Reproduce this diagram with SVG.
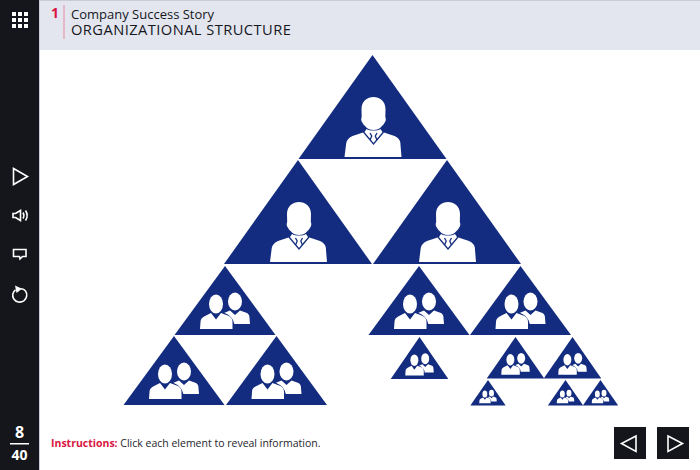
<svg xmlns="http://www.w3.org/2000/svg" xmlns:xlink="http://www.w3.org/1999/xlink" width="700" height="470" viewBox="0 0 700 470">
<style>
.t{font-family:"Open Sans","Noto Sans","Liberation Sans",sans-serif}
.tri{fill:#132c7f}
.w{fill:#fff}
.ic{fill:none;stroke:#fff;stroke-width:1.6;stroke-linejoin:miter}
.ln{fill:none;stroke:#132c7f;stroke-width:1.3}
</style>
<defs>
<g id="solo">
<polygon class="tri" points="0,0 74,104 -74,104"/>
<path class="w" d="M-11,54C-11,46 -5,42 1,42C7,42 13,46 13,54L12.800,62C13.500,63 13.500,66 12.500,67C11.500,69 10.500,70 9.500,71C7,74 4,75 1,75C-2,75 -5,74 -7.500,71C-8.500,70 -9.500,69 -10.500,67C-11.500,66 -11.500,63 -10.800,62Z"/>
<path class="w" d="M-6,74C-3,76 5,76 8,74L10,77L22,81C26,83 28,85 28,90L29,102L-28,102L-26.500,90C-26,85 -24,83 -20,81L-8,77Z"/>
<path class="ln" d="M-9,77L1,89L11,77"/>
<path class="ln" d="M-2.500,78L-0.800,81L-2.500,85M4.500,78L2.800,81L4.500,85"/>
</g>
<g id="pair">
<polygon class="tri" points="0,0 50.500,69 -50.500,69"/>
<ellipse class="w" cx="10" cy="35.500" rx="7" ry="9"/>
<path class="w" d="M5,44.500L10,49L15,44.500L22,47C24,48 24.500,50 24.500,52L25,58H8.500C8,53 5,50 -1,47Z"/>
<path class="ln" stroke-width="1" d="M-1.500,47C4.500,49.500 8,53 8.700,58"/>
<ellipse class="w" cx="-9" cy="38" rx="7" ry="9.500"/>
<path class="w" d="M-14,47L-9,53.500L-4,47L4,50C6.500,51.500 7.500,53 7.500,56L7.500,63L-25,63L-24.500,56C-24.500,53 -23,51.500 -20,50Z"/>
</g>
</defs>
<rect width="700" height="470" fill="#fff"/>
<g id="header">
<rect x="39" y="0" width="661" height="50" fill="#e3e6ef"/>
<rect x="39" y="0" width="661" height="1" fill="#c9ccd6"/>
<rect x="63.500" y="5" width="1" height="34" fill="#e88a9f"/>
<text class="t" x="51" y="18" font-size="14" font-weight="700" fill="#d8143f">1</text>
<text class="t" x="71" y="18.500" font-size="13" fill="#16171c">Company Success Story</text>
<text class="t" x="71" y="34.500" font-size="14.700" letter-spacing=".43" fill="#16171c">ORGANIZATIONAL STRUCTURE</text>
</g>
<g id="sidebar">
<rect x="0" y="0" width="39" height="470" fill="#15161b"/>
<rect x="39" y="0" width="1" height="470" fill="#c9ccd6"/>
<g id="menu-icon" fill="#fff">
<rect x="12" y="12" width="4" height="4"/><rect x="18" y="12" width="4" height="4"/><rect x="24" y="12" width="4" height="4"/>
<rect x="12" y="18" width="4" height="4"/><rect x="18" y="18" width="4" height="4"/><rect x="24" y="18" width="4" height="4"/>
<rect x="12" y="24" width="4" height="4"/><rect x="18" y="24" width="4" height="4"/><rect x="24" y="24" width="4" height="4"/>
</g>
<path id="play-icon" class="ic" d="M13.500,168.500L27.500,176.500L13.500,184.500Z"/>
<g id="sound-icon">
<path class="ic" stroke-width="1.800" d="M13,213.500H15.500L20.500,210.500V220.500L15.500,217.500H13Z"/>
<path class="ic" d="M23,212.500C24.200,214.500 24.200,216.500 23,218.500M25.500,210.500C27.500,213.500 27.500,217.500 25.500,220.500"/>
</g>
<path id="caption-icon" class="ic" stroke-width="2" stroke-linejoin="round" d="M13.500,249.500H26V256.500H22.500L20,259L19.500,256.500H13.500Z"/>
<g id="replay-icon">
<path class="ic" stroke-width="2.400" d="M15.500,289.800C12.500,292 11.800,296 13.800,299C16,302.300 20.500,303 23.800,300.800C27,298.500 27.700,294 25.500,291C24.500,289.700 23,288.900 21,288.800"/>
<polygon class="w" points="15,285.500 22,288.800 16.500,293"/>
</g>
<text class="t" x="19.500" y="438" font-size="16" font-weight="700" fill="#fff" text-anchor="middle">8</text>
<rect x="10" y="443" width="19" height="1.500" fill="#fff"/>
<text class="t" x="19.500" y="460" font-size="14" font-weight="700" fill="#fff" text-anchor="middle">40</text>
</g>
<g id="connectors"></g>
<use id="n1" xlink:href="#solo" href="#solo" x="372.500" y="55"/>
<use id="n2" xlink:href="#solo" href="#solo" x="298" y="160"/>
<use id="n3" xlink:href="#solo" href="#solo" x="447" y="160"/>
<use id="n4" xlink:href="#pair" href="#pair" transform="translate(225,266)"/>
<use id="n5" xlink:href="#pair" href="#pair" transform="translate(419,266)"/>
<use id="n6" xlink:href="#pair" href="#pair" transform="translate(520.500,266)"/>
<use id="n7" xlink:href="#pair" href="#pair" transform="translate(174,336)"/>
<use id="n8" xlink:href="#pair" href="#pair" transform="translate(276.500,336)"/>
<use id="n9" xlink:href="#pair" href="#pair" transform="translate(419.500,337) scale(.57,.61)"/>
<use id="n10" xlink:href="#pair" href="#pair" transform="translate(515.500,337) scale(.57,.6)"/>
<use id="n11" xlink:href="#pair" href="#pair" transform="translate(572.500,337) scale(.57,.6)"/>
<use id="n12" xlink:href="#pair" href="#pair" transform="translate(488,380) scale(.35,.37)"/>
<use id="n13" xlink:href="#pair" href="#pair" transform="translate(565.500,380) scale(.35,.37)"/>
<use id="n14" xlink:href="#pair" href="#pair" transform="translate(600.500,380) scale(.35,.37)"/>
<g id="instructions">
<text class="t" x="51" y="447" font-size="10.500">
<tspan font-weight="700" fill="#d8143f">Instructions:</tspan><tspan fill="#25262b"> Click each element to reveal information.</tspan></text>
</g>
<g id="prev-button">
<rect x="614" y="427" width="32" height="32" fill="#15161b"/>
<path class="ic" d="M636,436L621.500,443.500L636,451.500Z"/>
</g>
<g id="next-button">
<rect x="657" y="427" width="32" height="32" fill="#15161b"/>
<path class="ic" d="M668,436L682.500,443.500L668,451.500Z"/>
</g>
</svg>
